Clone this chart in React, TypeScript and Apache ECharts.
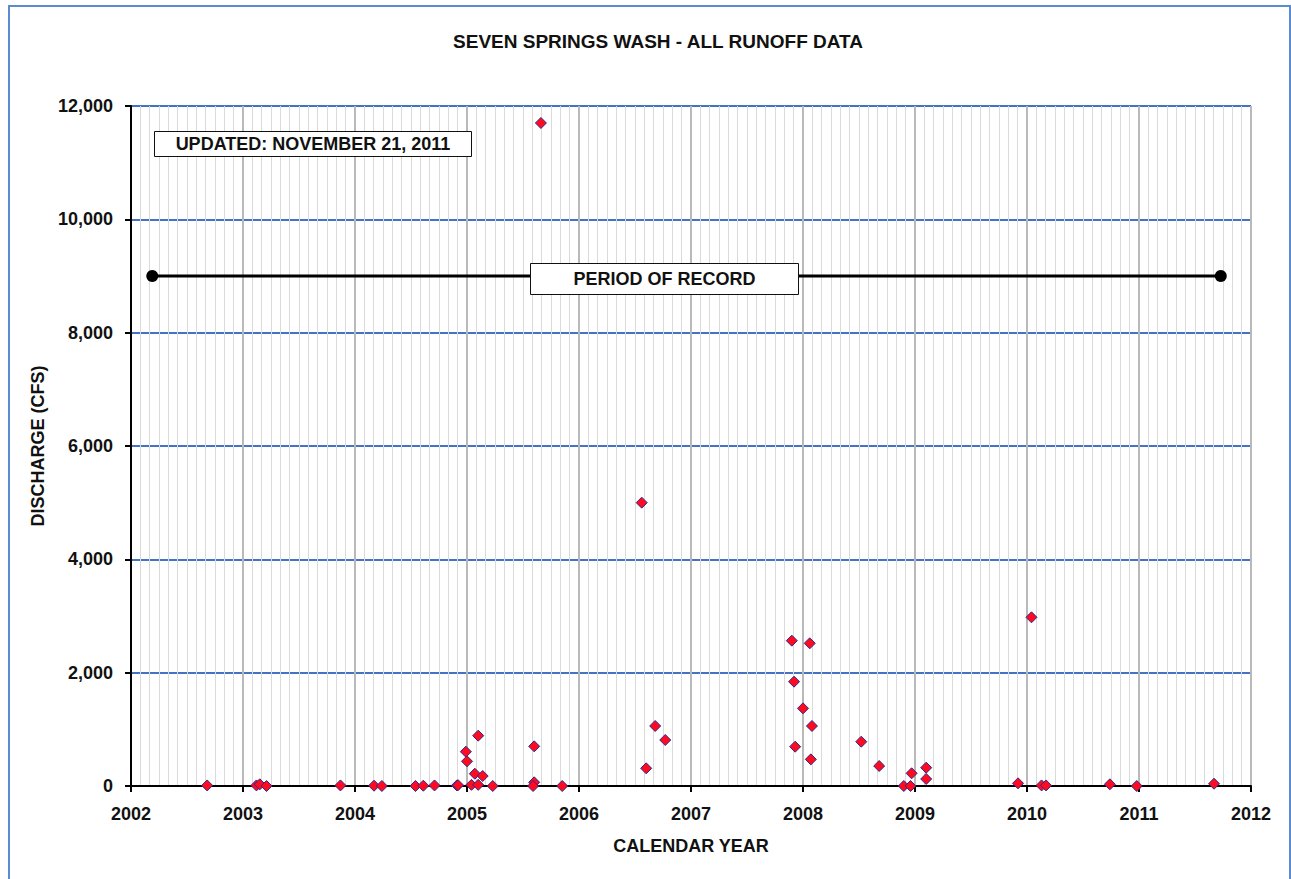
import React, { useEffect, useRef } from "react";
import * as echarts from "echarts";

const years: number[] = [
  2002.68, 2003.12, 2003.15, 2003.21, 2003.87, 2004.17, 2004.24, 2004.54, 2004.61, 2004.71,
  2004.91, 2004.92, 2004.99, 2005.0, 2005.04, 2005.07, 2005.1, 2005.1, 2005.14, 2005.23,
  2005.6, 2005.6, 2005.59, 2005.66, 2005.85, 2006.56, 2006.6, 2006.68, 2006.77, 2007.9,
  2007.92, 2007.93, 2008.0, 2008.06, 2008.07, 2008.08, 2008.52, 2008.68, 2008.9, 2008.96,
  2008.97, 2009.1, 2009.1, 2009.92, 2010.04, 2010.13, 2010.17, 2010.74, 2010.98, 2011.67,
];
const discharge: number[] = [
  10, 10, 30, 0, 10, 5, 0, 0, 5, 10,
  10, 15, 605, 436, 20, 217, 888, 20, 176, 0,
  700, 65, 0, 11700, 0, 5000, 312, 1059, 812, 2565,
  1841, 694, 1370, 2518, 470, 1059, 782, 353, 0, 0,
  224, 323, 124, 47, 2977, 10, 10, 30, 0, 40,
];
const periodYears: number[] = [2002.19, 2011.73];
const periodValue = 9000;
const xMin = 2002;
const xMax = 2012;
const yMin = 0;
const yMax = 12000;
const yStep = 2000;

const FONT = "'Liberation Sans', Arial, sans-serif";

export default function App() {
  const ref = useRef<HTMLDivElement>(null);
  useEffect(() => {
    if (!ref.current) return;
    const chart = echarts.init(ref.current, null, { renderer: "svg" });
    const points = years.map((y, i) => [y, discharge[i]]);
    const period = periodYears.map((y) => [y, periodValue]);
    const textStyle = (text: string, x: number, y: number) => ({
      type: "text",
      x,
      y,
      z: 101,
      style: {
        text,
        fontFamily: FONT,
        fontWeight: "bold",
        fontSize: 18,
        fill: "#111",
        stroke: "none",
        lineWidth: 0,
        align: "center",
        verticalAlign: "middle",
      },
    });
    const option: any = {
      animation: false,
      backgroundColor: "#ffffff",
      title: {
        text: "SEVEN SPRINGS WASH - ALL RUNOFF DATA",
        left: 653,
        textAlign: "center",
        top: 27,
        textStyle: { fontFamily: FONT, fontWeight: "bold", fontSize: 19, color: "#111" },
      },
      grid: { left: 131, right: 40, top: 106, bottom: 93 },
      xAxis: {
        type: "value",
        min: xMin,
        max: xMax,
        interval: 1,
        name: "CALENDAR YEAR",
        nameLocation: "middle",
        nameGap: 51,
        nameTextStyle: { fontFamily: FONT, fontWeight: "bold", fontSize: 18, color: "#111" },
        axisLine: { show: true, onZero: false, lineStyle: { color: "#000", width: 2 } },
        axisTick: { show: true, inside: false, length: 6, lineStyle: { color: "#000", width: 2 } },
        minorTick: { show: false, splitNumber: 12 },
        axisLabel: {
          margin: 19,
          fontFamily: FONT,
          fontWeight: "bold",
          fontSize: 18,
          color: "#111",
          formatter: (v: number) => String(Math.round(v)),
        },
        splitLine: { show: true, lineStyle: { color: "#b9b9b9", width: 2 } },
        minorSplitLine: { show: true, lineStyle: { color: "#dadada", width: 1 } },
      },
      yAxis: {
        type: "value",
        min: yMin,
        max: yMax,
        interval: yStep,
        name: "DISCHARGE (CFS)",
        nameLocation: "middle",
        nameGap: 74,
        nameTextStyle: { fontFamily: FONT, fontWeight: "bold", fontSize: 18, color: "#111" },
        axisLine: { show: true, lineStyle: { color: "#000", width: 2 } },
        axisTick: { show: true, length: 6, lineStyle: { color: "#000", width: 2 } },
        axisLabel: {
          margin: 18,
          fontFamily: FONT,
          fontWeight: "bold",
          fontSize: 18,
          color: "#111",
          formatter: (v: number) => v.toLocaleString("en-US"),
        },
        splitLine: { show: true, lineStyle: { color: "#4472C4", width: 2 } },
      },
      series: [
        {
          name: "Period of record",
          type: "line",
          data: period,
          symbol: "circle",
          symbolSize: 12,
          itemStyle: { color: "#000" },
          lineStyle: { color: "#000", width: 3 },
          z: 3,
        },
        {
          name: "Runoff",
          type: "scatter",
          data: points,
          symbol: "diamond",
          symbolSize: 11,
          itemStyle: { color: "#FF0A1E", borderColor: "#2E2A8C", borderWidth: 1, opacity: 1 },
          z: 5,
        },
      ],
      graphic: [
        {
          type: "rect",
          z: 100,
          shape: { x: 9, y: 6, width: 1281, height: 880 },
          style: { fill: "none", stroke: "#5B8BD0", lineWidth: 2 },
        },
        {
          type: "rect",
          z: 100,
          shape: { x: 154.5, y: 131.5, width: 317, height: 25 },
          style: { fill: "#ffffff", stroke: "#111111", lineWidth: 1 },
        },
        textStyle("UPDATED: NOVEMBER 21, 2011", 313, 144),
        {
          type: "rect",
          z: 100,
          shape: { x: 530.5, y: 263.5, width: 268, height: 31 },
          style: { fill: "#ffffff", stroke: "#111111", lineWidth: 1 },
        },
        textStyle("PERIOD OF RECORD", 664.5, 279),
      ],
    };
    chart.setOption(option);
    return () => chart.dispose();
  }, []);
  return (
    <div
      ref={ref}
      style={{ position: "fixed", left: 0, top: 0, width: 1291, height: 879 }}
    />
  );
}
